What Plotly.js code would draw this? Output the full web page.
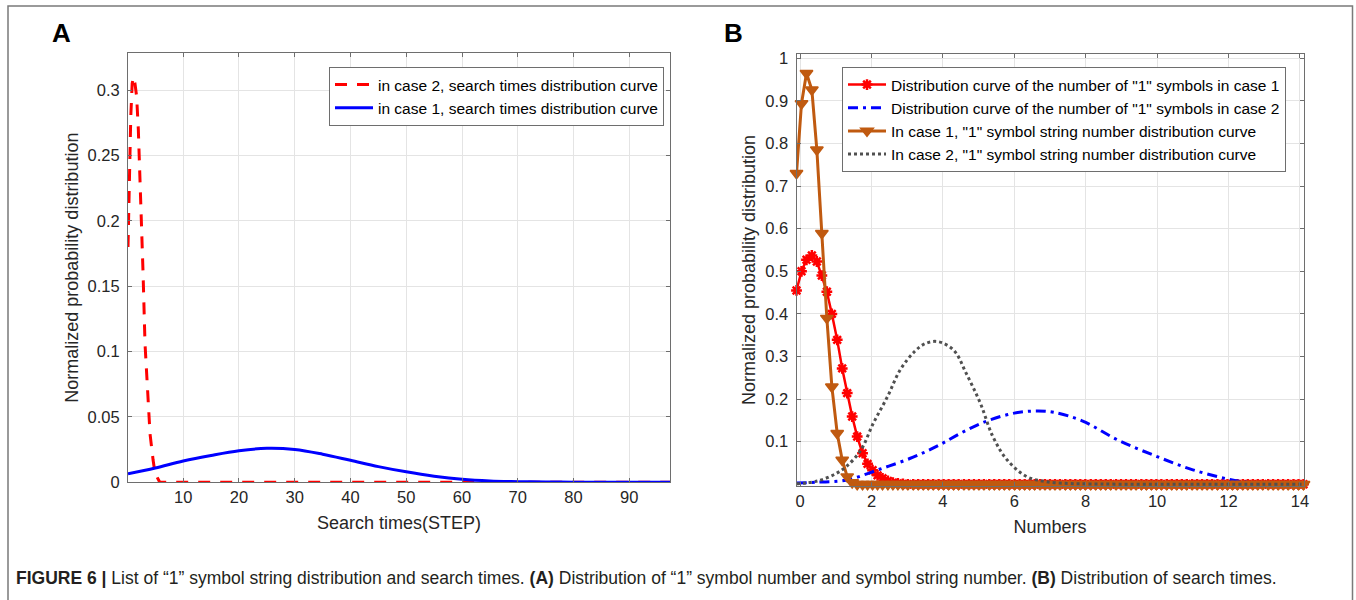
<!DOCTYPE html>
<html>
<head>
<meta charset="utf-8">
<script src="https://cdn.plot.ly/plotly-3.0.1.min.js"></script>
<style>
  html, body { margin: 0; padding: 0; background: #ffffff; }
  #chart { width: 1356px; height: 600px; }
</style>
</head>
<body>
<div id="chart"></div>
<script>
// ---------- Panel A: search times ----------
const aTicks = [10, 20, 30, 40, 50, 60, 70, 80, 90];
const aYTicks = [0, 0.05, 0.1, 0.15, 0.2, 0.25, 0.3];
const aRedName = 'in case 2, search times distribution curve';
const aBlueName = 'in case 1, search times distribution curve';
const aRedX = [0.1, 0.35, 0.6, 0.85, 1.1, 1.35, 1.65, 1.95, 2.25, 2.55, 2.8, 3.15, 3.6, 4.05, 4.6, 4.95, 5.8, 10, 20, 30, 40, 50, 60, 70, 80, 90, 97.3];
const aRedY = [0.18, 0.24, 0.28, 0.305, 0.31, 0.305, 0.295, 0.27, 0.235, 0.2, 0.16, 0.106, 0.068, 0.037, 0.017, 0.007, 0, 0, 0, 0, 0, 0, 0, 0, 0, 0, 0];
const aBlueX = [0.1, 5, 10, 15, 20, 25, 30, 35, 40, 45, 50, 55, 60, 65, 70, 75, 80, 85, 90, 97.3];
const aBlueY = [0.0065, 0.011, 0.0163, 0.0205, 0.0241, 0.026, 0.0251, 0.0215, 0.0168, 0.012, 0.008, 0.0047, 0.0023, 0.001, 0.0005, 0.0002, 0.0001, 0, 0, 0];

// ---------- Panel B: number distributions ----------
const bTicks = [0, 2, 4, 6, 8, 10, 12, 14];
const bYTicks = [0.1, 0.2, 0.3, 0.4, 0.5, 0.6, 0.7, 0.8, 0.9, 1];
const bNames = [
  'Distribution curve of the number of "1" symbols in case 1',
  'Distribution curve of the number of "1" symbols in case 2',
  'In case 1, "1" symbol string number distribution curve',
  'In case 2, "1" symbol string number distribution curve'
];
const bX = [
  -0.1, 0.04, 0.18, 0.33, 0.47, 0.61, 0.75, 0.89, 1.04, 1.18,
  1.32, 1.46, 1.6, 1.75, 1.89, 2.03, 2.17, 2.31, 2.46, 2.6,
  2.74, 2.88, 3.02, 3.17, 3.31, 3.45, 3.59, 3.73, 3.88, 4.02,
  4.16, 4.3, 4.44, 4.59, 4.73, 4.87, 5.01, 5.15, 5.3, 5.44,
  5.58, 5.72, 5.86, 6.01, 6.15, 6.29, 6.43, 6.57, 6.72, 6.86,
  7.0, 7.14, 7.28, 7.43, 7.57, 7.71, 7.85, 7.99, 8.14, 8.28,
  8.42, 8.56, 8.7, 8.85, 8.99, 9.13, 9.27, 9.41, 9.56, 9.7,
  9.84, 9.98, 10.12, 10.27, 10.41, 10.55, 10.69, 10.83, 10.98, 11.12,
  11.26, 11.4, 11.54, 11.69, 11.83, 11.97, 12.11, 12.25, 12.4, 12.54,
  12.68, 12.82, 12.96, 13.11, 13.25, 13.39, 13.53, 13.67, 13.82, 13.96,
  14.1
];
const bRedY = [
  0.455, 0.5, 0.527, 0.537, 0.523, 0.49, 0.452, 0.4, 0.339, 0.272,
  0.214, 0.159, 0.112, 0.073, 0.048, 0.033, 0.021, 0.014, 0.008, 0.004,
  0.002, 0.001, 0, 0, 0, 0, 0, 0, 0, 0,
  0, 0, 0, 0, 0, 0, 0, 0, 0, 0,
  0, 0, 0, 0, 0, 0, 0, 0, 0, 0,
  0, 0, 0, 0, 0, 0, 0, 0, 0, 0,
  0, 0, 0, 0, 0, 0, 0, 0, 0, 0,
  0, 0, 0, 0, 0, 0, 0, 0, 0, 0,
  0, 0, 0, 0, 0, 0, 0, 0, 0, 0,
  0, 0, 0, 0, 0, 0, 0, 0, 0, 0,
  0
];
const bOrangeY = [
  0.73, 0.894, 0.965, 0.926, 0.785, 0.589, 0.39, 0.229, 0.12, 0.057,
  0.018, 0.004, 0, 0, 0, 0, 0, 0, 0, 0,
  0, 0, 0, 0, 0, 0, 0, 0, 0, 0,
  0, 0, 0, 0, 0, 0, 0, 0, 0, 0,
  0, 0, 0, 0, 0, 0, 0, 0, 0, 0,
  0, 0, 0, 0, 0, 0, 0, 0, 0, 0,
  0, 0, 0, 0, 0, 0, 0, 0, 0, 0,
  0, 0, 0, 0, 0, 0, 0, 0, 0, 0,
  0, 0, 0, 0, 0, 0, 0, 0, 0, 0,
  0, 0, 0, 0, 0, 0, 0, 0, 0, 0,
  0
];
const bBlueX = [-0.1, 0.5, 1.3, 2.25, 3.15, 3.85, 4.5, 5.25, 6.0, 6.6, 7.1, 7.9, 8.9, 10.0, 11.0, 12.0, 12.6, 13.2, 14.1];
const bBlueY = [0.003, 0.005, 0.01, 0.036, 0.063, 0.09, 0.12, 0.149, 0.167, 0.172, 0.169, 0.149, 0.104, 0.065, 0.034, 0.012, 0.004, 0.001, 0.001];
const bGrayX = [-0.1, 0.5, 1.0, 1.3, 1.7, 2.05, 2.45, 2.8, 3.2, 3.5, 3.85, 4.3, 4.65, 5.05, 5.4, 5.8, 6.35, 6.9, 7.5, 8.0, 10.0, 12.0, 14.1];
const bGrayY = [0.001, 0.008, 0.025, 0.042, 0.08, 0.143, 0.206, 0.268, 0.311, 0.33, 0.335, 0.315, 0.261, 0.19, 0.112, 0.057, 0.018, 0.006, 0.002, 0.001, 0, 0, 0];

const captionText = '<b>FIGURE 6</b> <b>|</b> List of \u201c1\u201d symbol string distribution and search times. <b>(A)</b> Distribution of \u201c1\u201d symbol number and symbol string number. <b>(B)</b> Distribution of search times.';

// ---------- geometry helpers (pixels -> paper) ----------
const W = 1356, H = 600;
const px = v => v / W;
const py = v => (H - v) / H;
const FONT = 'Liberation Sans, Arial, sans-serif';

const axisCommon = {
  ticks: 'inside', ticklen: 4, tickcolor: '#6e6e6e', tickwidth: 1,
  showline: true, linecolor: '#6e6e6e', linewidth: 1, mirror: 'ticks',
  showgrid: true, gridcolor: '#e4e4e4', gridwidth: 1, zeroline: false,
  tickfont: { size: 16.5, color: '#262626', family: FONT }
};
const titleFont = { size: 18, color: '#262626', family: FONT };

const traces = [
  { x: aRedX, y: aRedY, name: aRedName, mode: 'lines', xaxis: 'x', yaxis: 'y', legend: 'legend',
    line: { color: '#FF0000', width: 3, dash: '12px,10px' } },
  { x: aBlueX, y: aBlueY, name: aBlueName, mode: 'lines', xaxis: 'x', yaxis: 'y', legend: 'legend',
    line: { color: '#0000FF', width: 3, shape: 'spline' } },
  { x: bX, y: bRedY, name: bNames[0], mode: 'lines+markers', xaxis: 'x2', yaxis: 'y2', legend: 'legend2',
    cliponaxis: false,
    line: { color: '#FF0000', width: 2.5 },
    marker: { symbol: 'asterisk-open', size: 9, color: '#FF0000', line: { color: '#FF0000', width: 2.5 } } },
  { x: bBlueX, y: bBlueY, name: bNames[1], mode: 'lines', xaxis: 'x2', yaxis: 'y2', legend: 'legend2',
    line: { color: '#0000FF', width: 3, dash: '10px,5px,3px,5px', shape: 'spline' } },
  { x: bX, y: bOrangeY, name: bNames[2], mode: 'lines+markers', xaxis: 'x2', yaxis: 'y2', legend: 'legend2',
    cliponaxis: false,
    line: { color: '#C05A10', width: 3 },
    marker: { symbol: 'triangle-down', size: 11, color: '#C05A10', line: { color: '#C05A10', width: 1.5 } } },
  { x: bGrayX, y: bGrayY, name: bNames[3], mode: 'lines', xaxis: 'x2', yaxis: 'y2', legend: 'legend2',
    line: { color: '#505050', width: 3, dash: 'dot', shape: 'spline' } }
];

const legendCommon = {
  xanchor: 'left', yanchor: 'top', bgcolor: '#ffffff', bordercolor: '#6e6e6e', borderwidth: 1,
  font: { size: 15.5, color: '#000000', family: FONT },
  itemwidth: 38, tracegroupgap: 0
};

const layout = {
  width: W, height: H,
  margin: { l: 0, r: 0, t: 0, b: 0 },
  paper_bgcolor: '#ffffff', plot_bgcolor: '#ffffff',
  font: { family: FONT, color: '#262626' },
  showlegend: true,
  xaxis: Object.assign({}, axisCommon, {
    domain: [px(128), px(670)], range: [0.1, 97.3], tickvals: aTicks, anchor: 'y',
    title: { text: 'Search times(STEP)', font: titleFont, standoff: 11 }
  }),
  yaxis: Object.assign({}, axisCommon, {
    domain: [py(482.3), py(53)], range: [0, 0.3283], tickvals: aYTicks, anchor: 'x',
    ticklabelstandoff: 4,
    title: { text: 'Normalized probability distribution', font: titleFont, standoff: 4 }
  }),
  xaxis2: Object.assign({}, axisCommon, {
    domain: [px(796.5), px(1303.5)], range: [-0.1, 14.1], tickvals: bTicks, anchor: 'y2',
    title: { text: 'Numbers', font: titleFont, standoff: 11 }
  }),
  yaxis2: Object.assign({}, axisCommon, {
    domain: [py(486), py(54)], range: [-0.004, 1.01], tickvals: bYTicks, anchor: 'x2',
    ticklabelstandoff: 4,
    title: { text: 'Normalized probability distribution', font: titleFont, standoff: 4 }
  }),
  legend: Object.assign({}, legendCommon, { x: px(329), y: py(67) }),
  legend2: Object.assign({}, legendCommon, { x: px(842), y: py(67) }),
  shapes: [
    { type: 'rect', xref: 'paper', yref: 'paper', x0: px(8), x1: px(1352.5), y0: -0.02, y1: py(6),
      line: { color: '#7a7a7a', width: 1.5 }, fillcolor: 'rgba(0,0,0,0)', layer: 'above' }
  ],
  annotations: [
    { text: '<b>A</b>', xref: 'paper', yref: 'paper', x: px(61), y: py(33), showarrow: false,
      xanchor: 'center', yanchor: 'middle', font: { size: 26, color: '#000000' } },
    { text: '<b>B</b>', xref: 'paper', yref: 'paper', x: px(733), y: py(33), showarrow: false,
      xanchor: 'center', yanchor: 'middle', font: { size: 26, color: '#000000' } },
    { text: captionText, xref: 'paper', yref: 'paper', x: px(14), y: py(578), showarrow: false,
      xanchor: 'left', yanchor: 'middle', align: 'left', font: { size: 17.5, color: '#231F20' } }
  ]
};

Plotly.newPlot('chart', traces, layout, { displayModeBar: false, staticPlot: true });
</script>
</body>
</html>
